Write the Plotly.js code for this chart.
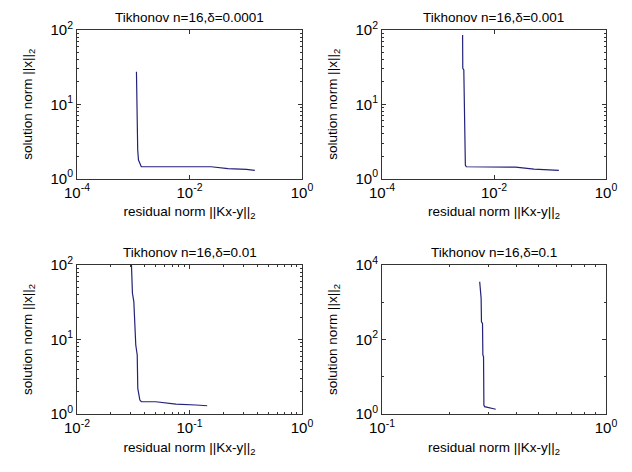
<!DOCTYPE html>
<html>
<head>
<meta charset="utf-8">
<script src="https://cdn.plot.ly/plotly-3.0.1.min.js"></script>
<style>
html,body{margin:0;padding:0;background:#fff;}
#chart{width:632px;height:472px;}
</style>
</head>
<body>
<div id="chart"></div>
<script>
// ---- data ----
const titles = ["Tikhonov n=16,δ=0.0001", "Tikhonov n=16,δ=0.001", "Tikhonov n=16,δ=0.01", "Tikhonov n=16,δ=0.1"];

const res1 = [0.00114, 0.00116, 0.00120, 0.00124, 0.00139, 0.0243, 0.0484, 0.103, 0.145];
const sol1 = [27.4, 10.8, 2.42, 1.77, 1.44, 1.44, 1.36, 1.33, 1.29];

const res2 = [0.00275, 0.00277, 0.00289, 0.00297, 0.00300, 0.00308, 0.0032, 0.0243, 0.0518, 0.103, 0.144];
const sol2 = [85.7, 30.5, 28.9, 5.54, 5.25, 1.52, 1.44, 1.42, 1.34, 1.30, 1.29];

const res3 = [0.0303, 0.0311, 0.0320, 0.0333, 0.0343, 0.0347, 0.0362, 0.0373, 0.0501, 0.0757, 0.114, 0.1436];
const sol3 = [130, 41.7, 32.2, 8.44, 6.19, 2.21, 1.54, 1.46, 1.46, 1.36, 1.32, 1.29];

const res4 = [0.273, 0.275, 0.277, 0.278, 0.281, 0.282, 0.284, 0.285, 0.287, 0.322];
const sol4 = [3560, 1410, 1277, 300, 272, 38.4, 34.6, 1.74, 1.57, 1.34];

const xTickVals = [[1e-4, 1e-2, 1], [1e-4, 1e-2, 1], [1e-2, 1e-1, 1], [1e-1, 1]];
const xTickText = [["10<sup>-4</sup>", "10<sup>-2</sup>", "10<sup>0</sup>"], ["10<sup>-4</sup>", "10<sup>-2</sup>", "10<sup>0</sup>"], ["10<sup>-2</sup>", "10<sup>-1</sup>", "10<sup>0</sup>"], ["10<sup>-1</sup>", "10<sup>0</sup>"]];
const yTickVals = [[1, 10, 100], [1, 10, 100], [1, 10, 100], [1, 100, 10000]];
const yTickText = [["10<sup>0</sup>", "10<sup>1</sup>", "10<sup>2</sup>"], ["10<sup>0</sup>", "10<sup>1</sup>", "10<sup>2</sup>"], ["10<sup>0</sup>", "10<sup>1</sup>", "10<sup>2</sup>"], ["10<sup>0</sup>", "10<sup>2</sup>", "10<sup>4</sup>"]];
const xRanges = [[-4, 0], [-4, 0], [-2, 0], [-1, 0]];
const yRanges = [[0, 2], [0, 2], [0, 2], [0, 4]];

const xLabel = "residual norm ||Kx-y||<sub>2</sub>";
const yLabel = "solution norm ||x||<sub>2</sub>";

// ---- layout helpers ----
const W = 632, H = 472;
const boxes = [
  {l: 77, r: 302, t: 30, b: 178.5},
  {l: 382, r: 606, t: 30, b: 178.5},
  {l: 77, r: 302, t: 265, b: 414},
  {l: 382, r: 606, t: 265, b: 414}
];
function decadeMinors(lo, hi) {
  const out = [];
  for (let e = lo; e < hi; e++) for (let k = 2; k <= 9; k++) out.push(k * Math.pow(10, e));
  return out;
}
const xMinor = [[], [], decadeMinors(-2, 0), decadeMinors(-1, 0)];
const yMinor = [decadeMinors(0, 2), decadeMinors(0, 2), decadeMinors(0, 2), [10, 1000]];

const fam = "Liberation Sans, Arial, sans-serif";
const lineCol = "#333333";

const allRes = [res1, res2, res3, res4];
const allSol = [sol1, sol2, sol3, sol4];
const data = [];
const layout = {
  width: W, height: H,
  margin: {l: 0, r: 0, t: 0, b: 0},
  paper_bgcolor: "#fff", plot_bgcolor: "#fff",
  showlegend: false,
  font: {family: fam, size: 13, color: "#000"},
  annotations: []
};

for (let i = 0; i < 4; i++) {
  const s = i === 0 ? "" : String(i + 1);
  data.push({
    x: allRes[i], y: allSol[i], type: "scatter", mode: "lines",
    xaxis: "x" + s, yaxis: "y" + s,
    line: {color: "#22227a", width: 1.2},
    hoverinfo: "skip"
  });
  const b = boxes[i];
  const common = {
    type: "log", showline: true, linecolor: lineCol, linewidth: 1,
    mirror: "allticks", ticks: "inside", ticklen: 4, tickcolor: lineCol,
    showgrid: false, zeroline: false, tickmode: "array",
    tickfont: {family: fam, size: 15, color: "#000"},
    fixedrange: true
  };
  layout["xaxis" + s] = Object.assign({}, common, {
    domain: [b.l / W, b.r / W], anchor: "y" + s,
    range: xRanges[i], tickvals: xTickVals[i], ticktext: xTickText[i],
    minor: {tickmode: "array", tickvals: xMinor[i], ticks: "inside", ticklen: 2, tickcolor: lineCol, showgrid: false},
    title: {text: xLabel, font: {family: fam, size: 13.5, color: "#000"}, standoff: 7}
  });
  layout["yaxis" + s] = Object.assign({}, common, {
    domain: [1 - b.b / H, 1 - b.t / H], anchor: "x" + s,
    range: yRanges[i], tickvals: yTickVals[i], ticktext: yTickText[i],
    minor: {tickmode: "array", tickvals: yMinor[i], ticks: "inside", ticklen: 2, tickcolor: lineCol, showgrid: false},
    title: {text: yLabel, font: {family: fam, size: 13.5, color: "#000"}, standoff: 14}
  });
  layout.annotations.push({
    text: titles[i], xref: "paper", yref: "paper",
    x: (b.l + b.r) / 2 / W, y: 1 - (b.t - 3) / H,
    xanchor: "center", yanchor: "bottom", showarrow: false,
    font: {family: fam, size: 13.5, color: "#000"}
  });
}

Plotly.newPlot("chart", data, layout, {staticPlot: true, displayModeBar: false});
</script>
</body>
</html>
